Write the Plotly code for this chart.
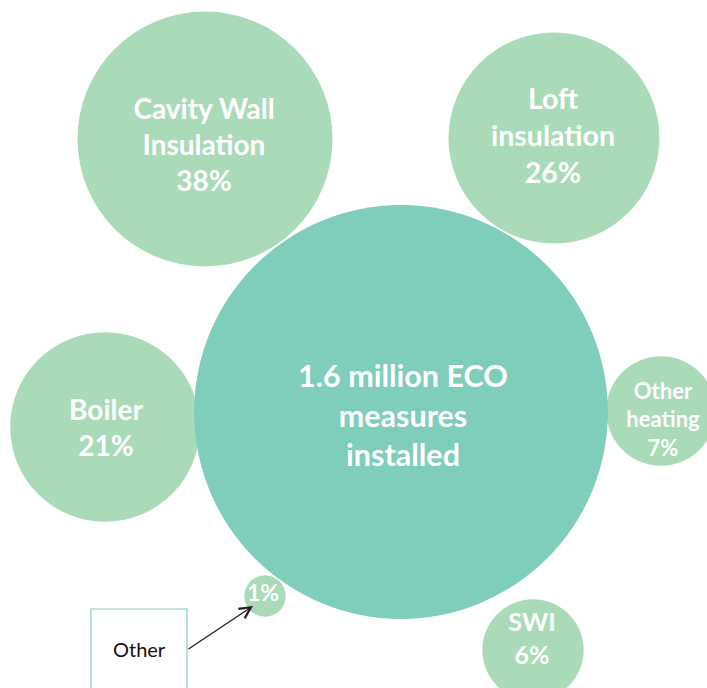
import math
import plotly.graph_objects as go

# ---- data ----
categories = ["1.6 million ECO<br>measures<br>installed", "Cavity Wall<br>Insulation", "Loft<br>insulation",
              "Boiler", "Other<br>heating", "SWI", "Other"]
share_pct = [100, 38, 26, 21, 7, 6, 1]

# ---- layout (pixel positions of bubbles & labels) ----
W, H = 707, 688
bubble_x = [401, 205, 554, 105, 661, 533, 265]
bubble_y = [412, 139, 138, 427, 411, 650, 596]
label_x = [403, 204, 553, 106, 663, 532, 263]
label_y = [419, 148, 139, 431, 422, 641, 595]
label_size = [30.5, 28, 28.5, 28, 22, 25, 23]
AREA_PER_PCT = 428.0  # px^2 per percentage point
LIGHT = "#A9DBB8"
TEAL = "#7FCDBB"
colors = [TEAL] + [LIGHT] * 6

diam = [2 * math.sqrt(AREA_PER_PCT * p) for p in share_pct]

texts = []
for i, (c, p) in enumerate(zip(categories, share_pct)):
    if i == 0:
        texts.append(c)
    elif c == "Other":
        texts.append(f"{p}%")
    else:
        texts.append(f"{c}<br>{p}%")

fig = go.Figure()
order = [1, 2, 3, 4, 5, 6, 0]
fig.add_trace(go.Scatter(
    x=[bubble_x[i] for i in order], y=[bubble_y[i] for i in order],
    mode="markers",
    marker=dict(size=[diam[i] for i in order], sizemode="diameter",
                color=[colors[i] for i in order], opacity=1, line=dict(width=0)),
    hoverinfo="skip", showlegend=False))

for i in range(len(categories)):
    fig.add_trace(go.Scatter(
        x=[label_x[i]], y=[label_y[i]], mode="text", text=[texts[i]],
        textposition="middle center",
        textfont=dict(family="Lato", size=label_size[i], color="white", weight="bold"),
        hoverinfo="skip", showlegend=False))

# "Other" callout box
fig.add_shape(type="rect", xref="x", yref="y", x0=91, x1=187, y0=609, y1=695,
              line=dict(color=TEAL, width=1.2), fillcolor="white", layer="below")
fig.add_annotation(x=139, y=649, xref="x", yref="y", text="Other", showarrow=False,
                   font=dict(family="Lato", size=20, color="#111"))
fig.add_annotation(x=253, y=606, xref="x", yref="y", ax=187, ay=650, axref="x", ayref="y",
                   text="", showarrow=True, arrowhead=5, arrowsize=1.6, arrowwidth=1.4,
                   arrowcolor="#222", standoff=0)

fig.update_xaxes(range=[0, W], visible=False, fixedrange=True)
fig.update_yaxes(range=[H, 0], visible=False, fixedrange=True)
fig.update_layout(width=W, height=H, margin=dict(l=0, r=0, t=0, b=0),
                  plot_bgcolor="white", paper_bgcolor="white")
fig.write_html("out.html", config={"displayModeBar": False},
               post_script="document.body.style.margin='0';document.body.style.overflow='hidden';")
